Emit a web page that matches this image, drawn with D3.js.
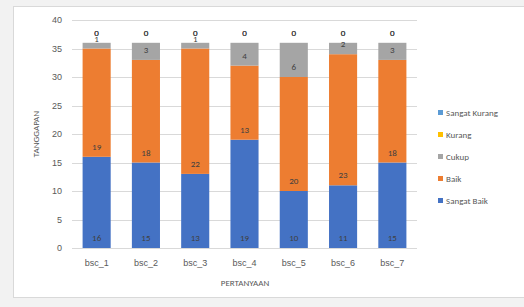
<!DOCTYPE html>
<html>
<head>
<meta charset="utf-8">
<script src="https://cdn.jsdelivr.net/npm/d3@7"></script>
<style>
  body { margin: 0; background: #f2f2f2; }
  svg { display: block; font-family: Calibri, Carlito, "Liberation Sans", Arial, sans-serif; }
</style>
</head>
<body>
<script>
var questions = ["bsc_1", "bsc_2", "bsc_3", "bsc_4", "bsc_5", "bsc_6", "bsc_7"]
var sangatBaik = [16, 15, 13, 19, 10, 11, 15]
var baik = [19, 18, 22, 13, 20, 23, 18]
var cukup = [1, 3, 1, 4, 6, 2, 3]
var kurang = [0, 0, 0, 0, 0, 0, 0]
var sangatKurang = [0, 0, 0, 0, 0, 0, 0]
var yTicks = [0, 5, 10, 15, 20, 25, 30, 35, 40]

var seriesNames = ["Sangat Baik", "Baik", "Cukup", "Kurang", "Sangat Kurang"]
var seriesValues = [sangatBaik, baik, cukup, kurang, sangatKurang]
var colors = ["#4472c4", "#ed7d31", "#a5a5a5", "#ffc000", "#5b9bd5"]

var rows = questions.map(function(q, i){
  var r = {q: q}
  seriesNames.forEach(function(s, j){ r[s] = seriesValues[j][i] })
  return r
})
var stacked = d3.stack().keys(seriesNames)(rows)

var svg = d3.select("body")
  .append("svg")
  .attr("width", 524)
  .attr("height", 307)

svg.append("rect")
  .attr("x", 13.5).attr("y", 6.5)
  .attr("width", 530).attr("height", 291)
  .attr("fill", "#fff")
  .attr("stroke", "#d9d9d9")

var xScale = d3.scaleBand()
  .domain(questions)
  .range([72, 417])
  .paddingInner(0.43)
  .paddingOuter(0.215)

var yScale = d3.scaleLinear()
  .domain([0, 40])
  .range([248, 20])

// gridlines
svg.append("g")
  .selectAll("line")
  .data(yTicks)
  .enter()
  .append("line")
  .attr("x1", 72).attr("x2", 417)
  .attr("y1", function(d){ return Math.round(yScale(d)) + 0.5 })
  .attr("y2", function(d){ return Math.round(yScale(d)) + 0.5 })
  .attr("stroke", "#d9d9d9")

var yAxis = d3.axisLeft(yScale).tickValues(yTicks).tickSize(0).tickPadding(10)
var gy = svg.append("g").attr("transform", "translate(72,0)").call(yAxis)
gy.select(".domain").remove()
gy.selectAll("text").attr("fill", "#595959").style("font-size", "9px")

var xAxis = d3.axisBottom(xScale).tickSize(0).tickPadding(12)
var gx = svg.append("g").attr("transform", "translate(0,248)").call(xAxis)
gx.select(".domain").remove()
gx.selectAll("text").attr("fill", "#595959").style("font-size", "9px")

// bars
var layers = svg.selectAll("g.layer")
  .data(stacked)
  .enter()
  .append("g")
  .attr("class", "layer")
  .attr("fill", function(d, i){ return colors[i] })

layers.selectAll("rect")
  .data(function(d){ return d })
  .enter()
  .append("rect")
  .attr("x", function(d){ return xScale(d.data.q) })
  .attr("width", xScale.bandwidth())
  .attr("y", function(d){ return yScale(d[1]) })
  .attr("height", function(d){ return yScale(d[0]) - yScale(d[1]) })

// data labels (inside base)
layers.selectAll("text")
  .data(function(d){ return d.map(function(p){ return {p: p, key: d.key} }) })
  .enter()
  .append("text")
  .attr("x", function(d){ return xScale(d.p.data.q) + xScale.bandwidth() / 2 })
  .attr("y", function(d){ return yScale(d.p[0]) - 7 })
  .attr("text-anchor", "middle")
  .attr("fill", "#404040")
  .style("font-size", "9px")
  .text(function(d){ return d.p.data[d.key] })

// axis titles
svg.append("text")
  .text("TANGGAPAN")
  .attr("transform", "translate(39,134) rotate(-90)")
  .attr("text-anchor", "middle")
  .attr("fill", "#595959")
  .style("font-size", "9px")

svg.append("text")
  .text("PERTANYAAN")
  .attr("x", 245).attr("y", 286)
  .attr("text-anchor", "middle")
  .attr("fill", "#595959")
  .style("font-size", "9px")

// legend, reversed order
var legendNames = seriesNames.slice().reverse()
var legendColors = colors.slice().reverse()
var legend = svg.append("g")
  .selectAll("g")
  .data(legendNames)
  .enter()
  .append("g")
  .attr("transform", function(d, i){ return "translate(438," + (113 + i * 22) + ")" })

legend.append("rect")
  .attr("x", 0).attr("y", -3)
  .attr("width", 5).attr("height", 5)
  .attr("fill", function(d, i){ return legendColors[i] })

legend.append("text")
  .text(function(d){ return d })
  .attr("x", 8).attr("y", 3)
  .attr("fill", "#595959")
  .style("font-size", "9px")
</script>
</body>
</html>
